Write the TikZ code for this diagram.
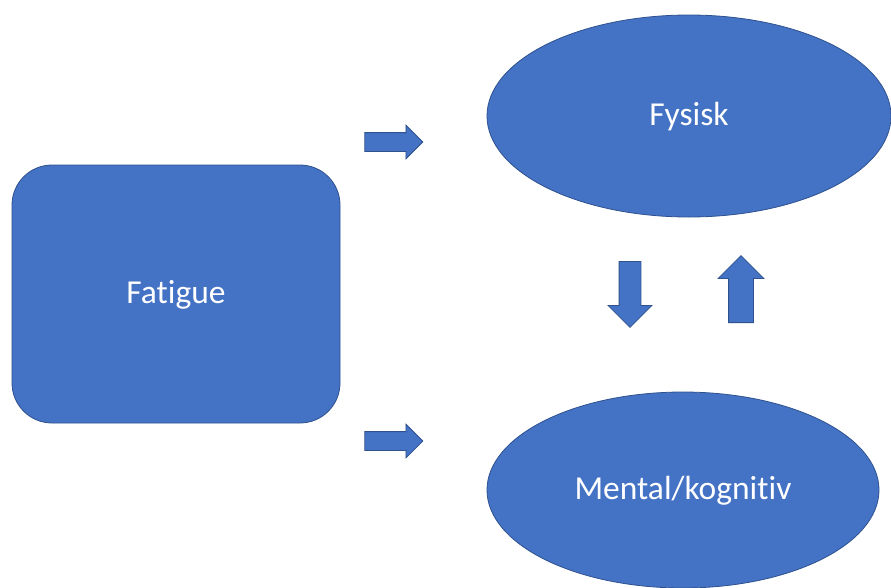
\documentclass[tikz,border=0pt]{standalone}
\usepackage{fontspec}
\setmainfont{Carlito}[Ligatures=NoCommon]
\usetikzlibrary{shapes.geometric,shapes.arrows,positioning}

\definecolor{officeblue}{HTML}{4472C4}
\definecolor{officeline}{HTML}{2F528F}

\tikzset{
  shapebox/.style={fill=officeblue, draw=officeline, line width=0.8pt,
    text=white, inner sep=0pt, font=\fontsize{33.5}{40}\selectfont,
    text height=26pt, text depth=6.4pt},
  blockarrow/.style={single arrow, fill=officeblue, draw=officeline,
    line width=0.8pt, single arrow tip angle=90}
}

\begin{document}
\begin{tikzpicture}[x=1pt, y=-1pt]

  \fill[white] (0,0) rectangle (891,587);
  \useasboundingbox (0,0) rectangle (891,587);
  \clip (0,0) rectangle (891,587);

  \node (fatigue) [shapebox, rectangle, rounded corners=40pt,
    minimum width=328pt, minimum height=258pt] at (176,294) {Fatigue};
  \node (fysisk) [shapebox, ellipse, minimum width=404pt,
    minimum height=202pt] at (689,116) {Fysisk};
  \node (mental) [shapebox, ellipse, minimum width=392pt,
    minimum height=196pt] at (683,490) {Mental/kognitiv};

  \node (toFysisk) [blockarrow, right=24pt of fatigue.east, yshift=152pt,
    inner sep=9pt, minimum height=58pt, minimum width=33pt,
    single arrow head extend=7.5pt] {};
  \node (toMental) [blockarrow, right=24pt of fatigue.east, yshift=-147pt,
    inner sep=9pt, minimum height=58pt, minimum width=33pt,
    single arrow head extend=7.5pt] {};

  \node (down) [blockarrow, shape border rotate=270, inner sep=10.5pt,
    minimum height=66pt, minimum width=43pt,
    single arrow head extend=11pt, anchor=tail] at (630,261) {};
  \node (up) [blockarrow, shape border rotate=90, inner sep=12pt,
    minimum height=67pt, minimum width=45pt,
    single arrow head extend=10.5pt, anchor=tail] at (741,323) {};

\end{tikzpicture}
\end{document}
